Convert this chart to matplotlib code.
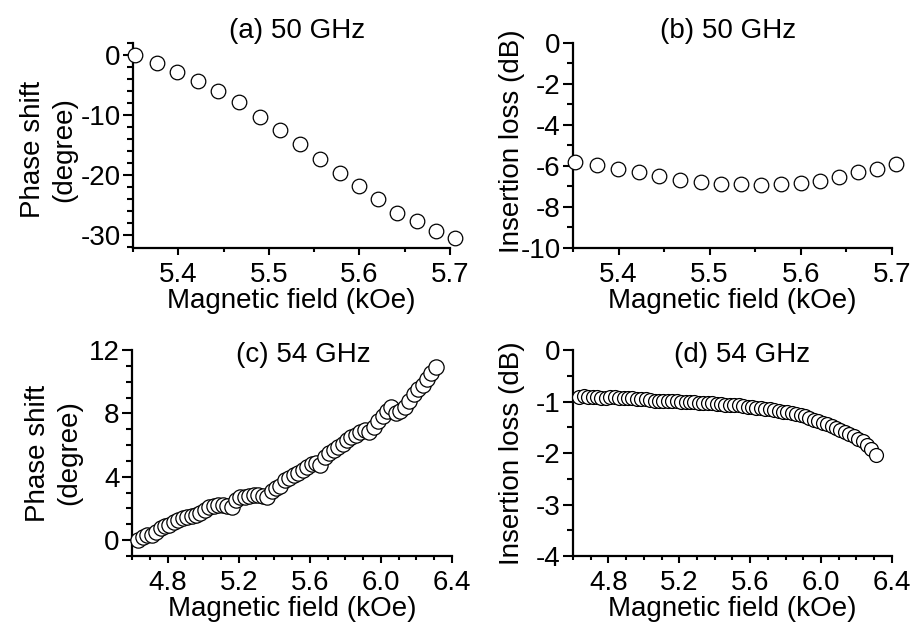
import matplotlib
matplotlib.use("Agg")
import matplotlib.pyplot as plt
from matplotlib.ticker import MultipleLocator, FormatStrFormatter

plt.rcParams['font.family'] = ['Liberation Sans', 'DejaVu Sans']
plt.rcParams['axes.unicode_minus'] = False

# (a) / (b): 50 GHz
field_50 = [5.352, 5.376, 5.399, 5.422, 5.444, 5.467, 5.490, 5.512, 5.534,
            5.556, 5.578, 5.600, 5.621, 5.642, 5.663, 5.684, 5.705]
phase_50 = [0.0, -1.4, -2.9, -4.3, -6.0, -7.9, -10.3, -12.5, -14.8,
            -17.4, -19.7, -21.9, -24.1, -26.3, -27.7, -29.3, -30.5]
loss_50 = [-5.80, -5.93, -6.13, -6.29, -6.50, -6.67, -6.80, -6.88, -6.88,
           -6.91, -6.88, -6.83, -6.72, -6.55, -6.29, -6.13, -5.90]

# (c) / (d): 54 GHz
field_54 = [4.635, 4.660, 4.685, 4.710, 4.735, 4.760, 4.785, 4.810, 4.835, 4.860,
            4.885, 4.910, 4.935, 4.960, 4.985, 5.010, 5.035, 5.060, 5.085, 5.110,
            5.135, 5.160, 5.185, 5.210, 5.235, 5.260, 5.285, 5.310, 5.335, 5.360,
            5.385, 5.410, 5.435, 5.460, 5.485, 5.510, 5.535, 5.560, 5.585, 5.610,
            5.635, 5.660, 5.685, 5.710, 5.735, 5.760, 5.785, 5.810, 5.835, 5.860,
            5.885, 5.910, 5.935, 5.960, 5.985, 6.010, 6.035, 6.060, 6.085, 6.110,
            6.135, 6.160, 6.185, 6.210, 6.235, 6.260, 6.285, 6.310]
phase_54 = [0.00, 0.20, 0.30, 0.35, 0.50, 0.80, 0.90, 0.95, 1.15, 1.30,
            1.40, 1.45, 1.50, 1.60, 1.70, 1.90, 2.10, 2.15, 2.20, 2.20,
            2.15, 2.10, 2.55, 2.70, 2.75, 2.80, 2.85, 2.85, 2.80, 2.75,
            3.10, 3.30, 3.45, 3.80, 3.95, 4.10, 4.25, 4.45, 4.65, 4.80,
            4.85, 4.75, 5.25, 5.50, 5.70, 5.85, 6.05, 6.30, 6.50, 6.65,
            6.85, 6.95, 6.80, 7.15, 7.50, 7.85, 8.15, 8.40, 8.05, 8.15,
            8.40, 8.80, 9.25, 9.55, 9.80, 10.20, 10.55, 10.95]
loss_54 = [-0.92, -0.90, -0.91, -0.92, -0.92, -0.93, -0.93, -0.92, -0.91, -0.93,
           -0.94, -0.94, -0.94, -0.95, -0.95, -0.96, -0.97, -0.98, -0.98, -0.98,
           -0.98, -0.99, -0.98, -1.00, -1.00, -1.01, -1.01, -1.02, -1.02, -1.03,
           -1.03, -1.04, -1.05, -1.06, -1.07, -1.07, -1.07, -1.09, -1.10, -1.11,
           -1.12, -1.13, -1.14, -1.15, -1.17, -1.18, -1.20, -1.21, -1.23, -1.25,
           -1.27, -1.29, -1.32, -1.35, -1.38, -1.41, -1.44, -1.48, -1.52, -1.55,
           -1.59, -1.63, -1.67, -1.72, -1.77, -1.84, -1.93, -2.03]

FS = 20

fig = plt.figure(figsize=(9.11, 6.27), dpi=100)
ax_a = fig.add_axes([0.146, 0.6045, 0.348, 0.327])
ax_b = fig.add_axes([0.629, 0.6045, 0.350, 0.327])
ax_c = fig.add_axes([0.145, 0.1132, 0.351, 0.3285])
ax_d = fig.add_axes([0.629, 0.1132, 0.350, 0.3285])


def style(ax, xmaj, xmin, ymaj, ymin):
    for s in ['top', 'right']:
        ax.spines[s].set_visible(False)
    for s in ['left', 'bottom']:
        ax.spines[s].set_linewidth(1.6)
    ax.xaxis.set_major_locator(MultipleLocator(xmaj))
    ax.xaxis.set_minor_locator(MultipleLocator(xmin))
    ax.yaxis.set_major_locator(MultipleLocator(ymaj))
    ax.yaxis.set_minor_locator(MultipleLocator(ymin))
    ax.xaxis.set_major_formatter(FormatStrFormatter('%.1f'))
    ax.yaxis.set_major_formatter(FormatStrFormatter('%d'))
    ax.tick_params(axis='both', which='both', direction='out', labelsize=FS, width=1.5)
    ax.tick_params(axis='x', which='major', length=5, pad=5)
    ax.tick_params(axis='x', which='minor', length=3)
    ax.tick_params(axis='y', which='major', length=7, pad=2)
    ax.tick_params(axis='y', which='minor', length=4)
    ax.set_xlabel('Magnetic field (kOe)', fontsize=FS, labelpad=0)


def circles(ax, x, y, ms):
    ax.plot(x, y, 'o', ms=ms, mfc='white', mec='black', mew=0.9,
            linestyle='none', clip_on=False, zorder=3)


# (a)
circles(ax_a, field_50, phase_50, 10.5)
ax_a.set_xlim(5.35, 5.70)
ax_a.set_ylim(-32.2, 2)
style(ax_a, 0.1, 0.05, 10, 2)
ax_a.set_ylabel('Phase shift\n(degree)', fontsize=FS, linespacing=1.25)
ax_a.yaxis.set_label_coords(-0.176, 0.48)
ax_a.text(0.516, 1.06, '(a) 50 GHz', transform=ax_a.transAxes,
          ha='center', va='center', fontsize=FS)

# (b)
circles(ax_b, field_50, loss_50, 10.5)
ax_b.set_xlim(5.35, 5.70)
ax_b.set_ylim(-10, 0)
style(ax_b, 0.1, 0.05, 2, 1)
ax_b.set_ylabel('Insertion loss (dB)', fontsize=FS)
ax_b.yaxis.set_label_coords(-0.15, 0.52)
ax_b.text(0.486, 1.06, '(b) 50 GHz', transform=ax_b.transAxes,
          ha='center', va='center', fontsize=FS)

# (c)
circles(ax_c, field_54, phase_54, 11)
ax_c.set_xlim(4.6, 6.4)
ax_c.set_ylim(-1, 12)
style(ax_c, 0.4, 0.1, 4, 1)
ax_c.set_ylabel('Phase shift\n(degree)', fontsize=FS, linespacing=1.25)
ax_c.yaxis.set_label_coords(-0.156, 0.5)
ax_c.text(0.537, 0.975, '(c) 54 GHz', transform=ax_c.transAxes,
          ha='center', va='center', fontsize=FS)

# (d)
circles(ax_d, field_54, loss_54, 10)
ax_d.set_xlim(4.6, 6.4)
ax_d.set_ylim(-4, 0)
style(ax_d, 0.4, 0.1, 1, 0.5)
ax_d.set_ylabel('Insertion loss (dB)', fontsize=FS)
ax_d.yaxis.set_label_coords(-0.15, 0.5)
ax_d.text(0.53, 0.975, '(d) 54 GHz', transform=ax_d.transAxes,
          ha='center', va='center', fontsize=FS)

fig.savefig('out.png', dpi=100)
